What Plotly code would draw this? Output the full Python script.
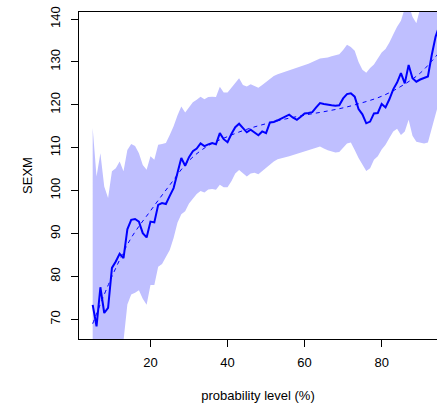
import plotly.graph_objects as go

# probability levels (%)
prob = list(range(5, 96))

# observed SEXM (solid line)
sexm = [73.4, 68.4, 77.5, 71.5, 72.7, 82.0, 83.5, 85.3, 84.3, 91.0,
        93.2, 93.4, 92.8, 90.1, 89.1, 92.8, 92.6, 96.7, 97.1, 96.9,
        98.8, 100.6, 104.1, 107.6, 105.8, 107.8, 109.2, 109.8, 111.0, 110.4,
        110.8, 111.1, 110.8, 113.4, 112.0, 111.3, 113.2, 114.8, 115.6, 114.6,
        113.6, 114.2, 113.6, 112.9, 113.8, 113.4, 115.9, 116.0, 116.4, 116.9,
        117.3, 117.7, 117.0, 116.5, 117.2, 118.0, 118.1, 118.3, 119.4, 120.4,
        120.2, 120.0, 119.9, 119.8, 119.9, 121.5, 122.5, 122.7, 121.9, 119.0,
        117.8, 115.7, 116.1, 118.0, 118.1, 120.2, 119.4, 121.3, 123.6, 125.2,
        127.4, 125.0, 129.3, 126.2, 125.4, 125.9, 126.3, 126.6, 131.6, 135.9,
        138.5]

# upper band
upper = [114.6, 103.3, 108.7, 101.0, 98.3, 104.5, 105.2, 106.8, 104.5, 109.5,
         110.9, 110.4, 108.7, 106.0, 104.9, 108.0, 107.2, 110.7, 110.9, 111.1,
         113.0, 115.0, 117.5, 119.6, 118.2, 119.5, 120.6, 121.2, 121.9, 121.3,
         121.8, 121.9, 121.8, 124.2, 122.9, 122.9, 124.0, 125.2, 126.2, 124.6,
         124.3, 124.8, 124.4, 124.0, 124.6, 125.3, 126.2, 126.7, 127.1, 127.4,
         127.7, 128.0, 128.3, 128.6, 128.9, 129.3, 129.6, 130.0, 130.4, 130.8,
         130.9, 131.0, 131.3, 131.6, 131.8, 132.8, 134.0, 133.5, 132.6, 130.0,
         128.2, 127.5, 128.6, 129.4, 130.8, 132.2, 133.0, 134.5, 136.4, 138.2,
         139.6, 142.5, 143.5, 140.5, 139.0, 142.5, 144.0, 144.0, 145.0, 147.0,
         150.0]

# lower band
lower = [60.0, 58.0, 62.0, 59.0, 58.0, 61.0, 62.0, 63.0, 65.0, 73.5,
         75.8, 76.2, 76.8, 74.8, 73.4, 78.0, 78.0, 82.3, 82.9, 84.6,
         86.2, 89.0, 92.5, 94.5, 95.2, 97.0, 98.2, 99.2, 99.9, 99.6,
         100.3, 100.4, 100.2, 101.4, 100.8, 100.8, 102.2, 104.0, 104.8, 104.0,
         103.3, 104.0, 104.2, 103.8, 104.6, 105.2, 106.0, 106.8, 107.3, 107.6,
         107.8, 108.0, 108.3, 108.5, 108.8, 109.1, 109.4, 109.7, 110.0, 110.3,
         109.8, 109.4, 109.1, 108.9, 109.0, 110.0, 111.0, 111.2, 109.5, 107.6,
         106.0, 104.6, 105.2, 107.2, 108.0, 109.6, 110.7, 112.3, 113.8, 114.4,
         113.0, 113.8, 116.5, 112.8, 111.4, 111.2, 111.0, 111.2, 114.6, 117.8,
         121.0]

# smooth fitted curve (dashed)
fit_x = [5, 10, 15, 20, 25, 30, 35, 40, 45, 50, 55, 60, 65, 70, 75, 80, 85, 90, 95]
fit_y = [69.0, 80.0, 89.0, 95.3, 101.3, 107.0, 110.5, 112.6, 114.3, 115.6,
         116.7, 117.6, 118.4, 119.3, 120.5, 122.0, 124.3, 127.4, 132.3]

x_ticks = [20, 40, 60, 80]
y_ticks = [70, 80, 90, 100, 110, 120, 130, 140]

FONT = "Liberation Sans, Arial, Helvetica, sans-serif"

fig = go.Figure()
fig.add_trace(go.Scatter(
    x=prob + prob[::-1], y=upper + lower[::-1],
    fill="toself", fillcolor="rgb(191,191,255)",
    line=dict(width=0), mode="lines", hoverinfo="skip", showlegend=False))
fig.add_trace(go.Scatter(
    x=fit_x, y=fit_y, mode="lines", line_shape="spline",
    line=dict(color="#0000FF", width=1, dash="4px,4px"), showlegend=False))
fig.add_trace(go.Scatter(
    x=prob, y=sexm, mode="lines",
    line=dict(color="#0000FF", width=2), showlegend=False))

fig.update_layout(
    width=437, height=405,
    margin=dict(l=79, r=0, t=12, b=66),
    paper_bgcolor="white", plot_bgcolor="white",
    font=dict(family=FONT, size=13, color="black"),
    xaxis=dict(range=[1.45, 94.36], tickvals=x_ticks, ticks="outside", ticklen=7,
               tickcolor="black", showline=True, linecolor="black", linewidth=1,
               mirror=True, showgrid=False, zeroline=False,
               tickfont=dict(size=13), ticklabelstandoff=4,
               title=dict(text="probability level (%)", standoff=22, font=dict(size=13))),
    yaxis=dict(range=[65.44, 141.63], tickvals=y_ticks, ticks="outside", ticklen=7,
               tickcolor="black", showline=True, linecolor="black", linewidth=1,
               mirror=False, showgrid=False, zeroline=False, tickangle=-90,
               tickfont=dict(size=13), ticklabelstandoff=6,
               title=dict(text="SEXM", standoff=12, font=dict(size=13))),
)

fig.write_html("out.html")
